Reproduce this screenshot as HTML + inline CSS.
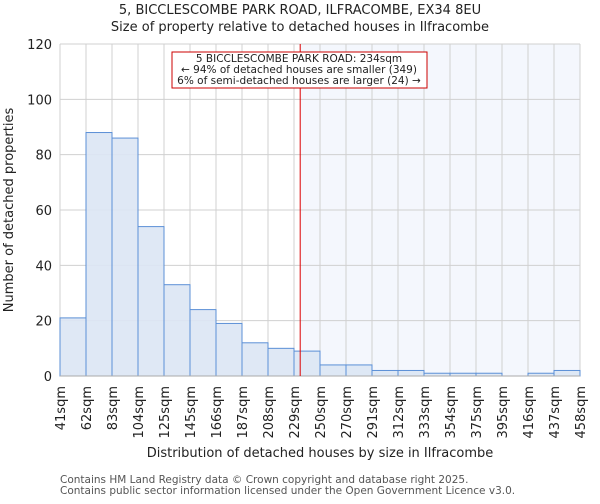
<!DOCTYPE html>
<html><head><meta charset="utf-8"><style>
body{margin:0;background:#fff;font-family:"DejaVu Sans","Liberation Sans",sans-serif;}
svg text{font-family:"DejaVu Sans","Liberation Sans",sans-serif;}
</style></head><body>
<svg id="chart" width="600" height="500" xmlns="http://www.w3.org/2000/svg">
<text x="300" y="14" text-anchor="middle" font-size="13" fill="#222">5, BICCLESCOMBE PARK ROAD, ILFRACOMBE, EX34 8EU</text>
<text x="300" y="31" text-anchor="middle" font-size="13" fill="#222">Size of property relative to detached houses in Ilfracombe</text>
<g id="plot"></g>
<text transform="translate(13,210) rotate(-90)" text-anchor="middle" font-size="13" fill="#222">Number of detached properties</text>
<text x="320" y="457" text-anchor="middle" font-size="13" fill="#222">Distribution of detached houses by size in Ilfracombe</text>
<text x="60" y="483" font-size="10.5" fill="#555">Contains HM Land Registry data © Crown copyright and database right 2025.</text>
<text x="60" y="494" font-size="10.5" fill="#555">Contains public sector information licensed under the Open Government Licence v3.0.</text>
</svg>
<script>
const tickLabels=["41sqm","62sqm","83sqm","104sqm","125sqm","145sqm","166sqm","187sqm","208sqm","229sqm","250sqm","270sqm","291sqm","312sqm","333sqm","354sqm","375sqm","395sqm","416sqm","437sqm","458sqm"];
const binEdges=[41,62,83,104,125,145,166,187,208,229,250,270,291,312,333,354,375,395,416,437,458];
const counts=[21,88,86,54,33,24,19,12,10,9,4,4,2,2,1,1,1,0,1,2];
const yTicks=[0,20,40,60,80,100,120];
const propertySize=234;
const X0=60,X1=580,Y0=376,Y1=44;
const nb=counts.length;
function xIdx(i){return X0+(X1-X0)*i/nb;}
function xVal(v){let i=0;while(i<nb-1&&v>binEdges[i+1])i++;return xIdx(i)+(v-binEdges[i])/(binEdges[i+1]-binEdges[i])*(xIdx(i+1)-xIdx(i));}
function y(v){return Y0-(Y0-Y1)*v/120;}
const g=document.getElementById('plot');const NS="http://www.w3.org/2000/svg";
function el(t,a){const e=document.createElementNS(NS,t);for(const k in a)e.setAttribute(k,a[k]);g.appendChild(e);return e;}
const px=xVal(propertySize);
let r=el('rect',{x:px,y:Y1,width:X1-px,height:Y0-Y1,fill:'#f4f7fd'});


for(let i=0;i<=nb;i++){let l=el('line',{x1:xIdx(i),x2:xIdx(i),y1:Y1,y2:Y0,stroke:'#d0d0d0','stroke-width':1});

}
yTicks.forEach(v=>{let l=el('line',{x1:X0,x2:X1,y1:y(v),y2:y(v),stroke:'#d0d0d0','stroke-width':1});


let t=el('text',{x:X0-8,y:y(v)+5,'text-anchor':'end','font-size':13,fill:'#222'});t.textContent=v;

});
counts.forEach((c,i)=>{if(c<=0)return;let b=el('rect',{x:xIdx(i),y:y(c),width:xIdx(i+1)-xIdx(i),height:Y0-y(c),fill:'#dce6f4','fill-opacity':0.9,stroke:'#5b8fd6','stroke-width':1});

});
let ax=el('line',{x1:X0,x2:X1,y1:Y0,y2:Y0,stroke:'#aaa'});


tickLabels.forEach((s,i)=>{const tx=xIdx(i);let t=el('text',{transform:`translate(${tx+5},${Y0+10}) rotate(-90)`,'text-anchor':'end','font-size':13,fill:'#222'});t.textContent=s;

});
let rl=el('line',{x1:px,x2:px,y1:Y1,y2:Y0,stroke:'#dd0000','stroke-width':1});


let box=el('rect',{x:172,y:52,width:255,height:36,fill:'#fff',stroke:'#cc0000','stroke-width':1});


["5 BICCLESCOMBE PARK ROAD: 234sqm","← 94% of detached houses are smaller (349)","6% of semi-detached houses are larger (24) →"].forEach((s,i)=>{let t=el('text',{x:299,y:62+i*11,'text-anchor':'middle','font-size':10.5,fill:'#222'});t.textContent=s;

});
</script>
</body></html>
